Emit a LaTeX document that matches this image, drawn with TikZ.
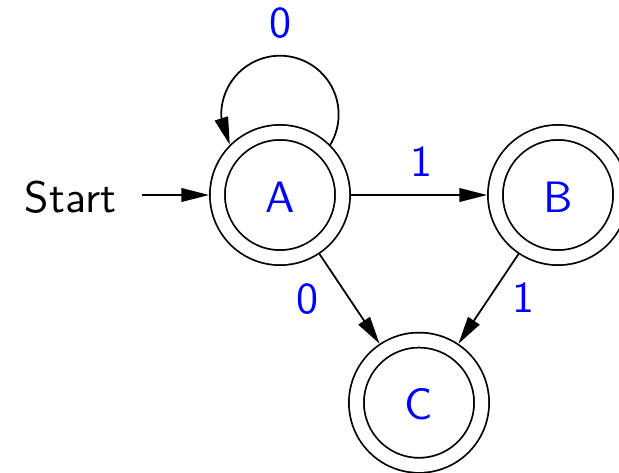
\documentclass[tikz,border=0pt]{standalone}
\usepackage{fontspec}
\usetikzlibrary{arrows.meta,bending}
\begin{document}
\begin{tikzpicture}[x=0.22727pt, y=0.22727pt, line width=0.4pt, font=\sffamily,
  >={Triangle[length=6.3pt,width=3.1pt,flex]},
  state/.style={circle, draw, minimum size=1cm, inner sep=0pt,
    double, double distance=3pt, outer sep=1.9pt,
    text=blue, text height=7.8pt, text depth=0pt},
  lbl/.style={text=blue, inner sep=0pt}]
\useasboundingbox (0,0) rectangle (619,472);
% accepting states
\node[state] (A) at (280,277) {A};
\node[state] (B) at (558,277) {B};
\node[state] (C) at (419,69.3) {C};
% start marker
\node[anchor=east, inner xsep=5.64pt, text height=7.8pt, text depth=0pt] (S) at (141.7,277) {Start};
\draw[->] (S) -- (A);
% transitions
\draw[->] (A) -- node[lbl, shift={(2,33.3)}] {1} (B);
\draw[->] (A) -- node[lbl, shift={(-42,0)}] {0} (C);
\draw[->] (B) -- node[lbl, shift={(34.5,1)}] {1} (C);
% self loop on A
\draw[->] (A.45) arc[start angle=-31.2, end angle=90, radius=13.34pt]
  node[lbl, yshift=7.43pt, xshift=0.23pt] {0}
  arc[start angle=90, end angle=211.2, radius=13.34pt];
\end{tikzpicture}
\end{document}
